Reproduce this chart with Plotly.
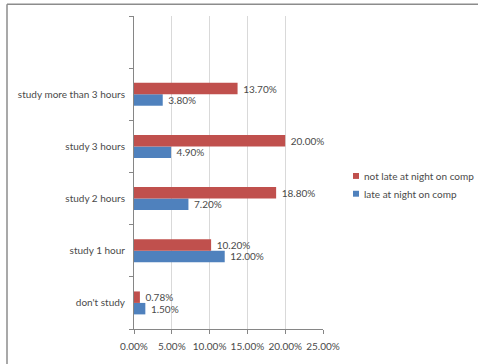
import plotly.graph_objects as go

categories = ["don't study", "study 1 hour", "study 2 hours", "study 3 hours",
              "study more than 3 hours", " "]
late = [0.015, 0.120, 0.072, 0.049, 0.038, None]
not_late = [0.0078, 0.102, 0.188, 0.200, 0.137, None]
series_names = ["late at night on comp", "not late at night on comp"]
colors = ["#4F81BD", "#C0504D"]
xticks = [0, 0.05, 0.10, 0.15, 0.20, 0.25]

W, H = 478, 364
L, R, T, B = 134, 155, 16, 31
pw, ph = W - L - R, H - T - B

def fmt(vals):
    return ["" if v is None else "\u00a0" + f"{v*100:.2f}%" for v in vals]

fig = go.Figure()
for name, vals, col in [(series_names[0], late, colors[0]), (series_names[1], not_late, colors[1])]:
    fig.add_trace(go.Bar(
        y=categories, x=vals, orientation="h", name=name,
        marker=dict(color=col, line=dict(width=0)),
        text=fmt(vals), textposition="outside", cliponaxis=False,
        textfont=dict(color="#4A4A4A", size=10, family="Lato"),
        constraintext="none", showlegend=False,
    ))

font = dict(family="Lato", size=10, color="#4A4A4A")
fig.update_layout(
    width=W, height=H, margin=dict(l=L, r=R, t=T, b=B),
    barmode="group", bargap=0.56, bargroupgap=0,
    paper_bgcolor="white", plot_bgcolor="white", font=font,
    xaxis=dict(range=[0, 0.25], tickvals=xticks, tickformat=".2%", showgrid=True,
               gridcolor="#D9D9D9", gridwidth=1, zeroline=False, showline=True,
               linecolor="#868686", ticks="outside", ticklen=4, tickcolor="#868686",
               tickfont=font, fixedrange=True, ticklabelstandoff=4),
    yaxis=dict(type="category", categoryorder="array", categoryarray=categories,
               range=[-0.5, len(categories) - 0.5],
               showgrid=False, zeroline=False, showline=True, linecolor="#868686",
               ticks="outside", ticklen=4, tickcolor="#868686", tickson="boundaries",
               tickfont=font, ticklabelstandoff=6),
)

# outer chart border (top and left edges visible)
def px_x(p):
    return (p - L) / pw
def px_y(p):
    return (H - B - p) / ph

bc = "#8C8C8C"
fig.add_shape(type="line", xref="paper", yref="paper", x0=px_x(7), x1=px_x(W + 5),
              y0=px_y(4), y1=px_y(4), line=dict(color=bc, width=1.5))
fig.add_shape(type="line", xref="paper", yref="paper", x0=px_x(7), x1=px_x(7),
              y0=px_y(4), y1=px_y(H + 5), line=dict(color=bc, width=1.5))

# legend
legend_items = [(series_names[1], colors[1], 178), (series_names[0], colors[0], 196)]
for name, col, cy in legend_items:
    fig.add_shape(type="rect", xref="paper", yref="paper",
                  x0=px_x(353), x1=px_x(359), y0=px_y(cy + 3), y1=px_y(cy - 3),
                  fillcolor=col, line=dict(width=0))
    fig.add_annotation(xref="paper", yref="paper", x=px_x(362), y=px_y(cy),
                       xanchor="left", yanchor="middle", text=name, showarrow=False,
                       font=font)

fig.write_html("out.html")
